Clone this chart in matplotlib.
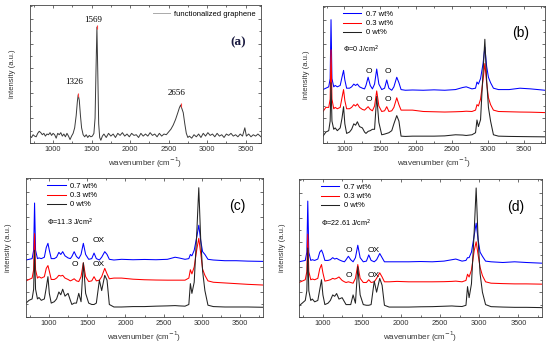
import matplotlib
matplotlib.use('Agg')
import matplotlib.pyplot as plt
from matplotlib.ticker import MultipleLocator, NullFormatter

plt.rcParams['font.family'] = ['Liberation Sans', 'DejaVu Sans']

# ---- panel (a): functionalized graphene ----
a_x = [700, 720, 740, 760, 780, 800, 820, 840, 860, 880, 900, 920, 940, 960, 980,
       1000, 1020, 1040, 1060, 1080, 1100, 1120, 1140, 1160, 1180, 1200, 1220, 1240,
       1260, 1280, 1300, 1315, 1326, 1340, 1355, 1370, 1390, 1410, 1430, 1450, 1470,
       1490, 1510, 1530, 1545, 1558, 1569, 1580, 1592, 1605, 1620, 1640, 1660, 1690,
       1720, 1750, 1780, 1810, 1840, 1870, 1900, 1930, 1960, 1990, 2020, 2050, 2080,
       2110, 2140, 2170, 2200, 2230, 2260, 2290, 2320, 2350, 2380, 2410, 2440, 2470,
       2500, 2530, 2560, 2590, 2620, 2640, 2656, 2672, 2690, 2710, 2730, 2750, 2770,
       2800, 2830, 2860, 2890, 2920, 2950, 2980, 3010, 3040, 3070, 3100, 3130, 3160,
       3190, 3220, 3250, 3280, 3310, 3340, 3370, 3400, 3430, 3460, 3490, 3510, 3540,
       3570, 3600, 3630, 3660, 3700]
a_y = [0.05, 0.04, 0.06, 0.05, 0.045, 0.07, 0.085, 0.075, 0.06, 0.07, 0.05, 0.065, 0.06, 0.075, 0.055,
       0.07, 0.06, 0.035, 0.07, 0.06, 0.075, 0.05, 0.065, 0.045, 0.07, 0.05, 0.025, 0.05,
       0.07, 0.11, 0.20, 0.30, 0.35, 0.31, 0.20, 0.11, 0.06, 0.045, 0.06, 0.04, 0.055,
       0.045, 0.05, 0.07, 0.18, 0.55, 0.84, 0.52, 0.14, 0.04, 0.02, 0.05, 0.065, 0.04,
       0.07, 0.05, 0.065, 0.04, 0.07, 0.055, 0.075, 0.05, 0.065, 0.045, 0.07, 0.055, 0.06,
       0.04, 0.07, 0.05, 0.065, 0.05, 0.075, 0.055, 0.065, 0.045, 0.07, 0.05, 0.065, 0.06,
       0.08, 0.10, 0.13, 0.17, 0.22, 0.255, 0.275, 0.25, 0.22, 0.14, 0.07, 0.04, 0.05,
       0.035, 0.06, 0.045, 0.065, 0.04, 0.07, 0.05, 0.075, 0.055, 0.065, 0.045, 0.07, 0.05,
       0.06, 0.04, 0.065, 0.055, 0.07, 0.05, 0.06, 0.045, 0.065, 0.05, 0.11, 0.05, 0.065,
       0.045, 0.06, 0.05, 0.065, 0.045]
a_peaks = [1326, 1569, 2656]
a_peak_y = [0.35, 0.84, 0.275]

# ---- panels (b)-(d): shared wavenumber grid ----
wn = [700, 740, 780, 800, 812, 825, 850, 870, 900, 940,
      965, 987, 1005, 1030, 1070, 1100, 1130, 1155, 1180, 1210,
      1250, 1280, 1300, 1330, 1360, 1390, 1420, 1450, 1480, 1520,
      1560, 1590, 1620, 1660, 1690, 1730, 1760, 1790, 1850, 1950,
      2100, 2250, 2400, 2550, 2650, 2700, 2780, 2830, 2850, 2870,
      2900, 2935, 2960, 2985, 3010, 3040, 3080, 3150, 3300, 3450,
      3600, 3800]

b_07 = [0.39, 0.40, 0.41, 0.47, 0.90, 0.47, 0.41, 0.42, 0.41, 0.42,
        0.48, 0.53, 0.46, 0.40, 0.40, 0.41, 0.43, 0.42, 0.43, 0.41,
        0.40, 0.395, 0.42, 0.48, 0.42, 0.395, 0.43, 0.54, 0.43, 0.39,
        0.40, 0.46, 0.40, 0.385, 0.41, 0.48, 0.44, 0.39, 0.385, 0.387,
        0.385, 0.388, 0.385, 0.39, 0.405, 0.41, 0.395, 0.40, 0.445, 0.43,
        0.47, 0.58, 0.70, 0.56, 0.48, 0.44, 0.40, 0.39, 0.39, 0.40,
        0.395, 0.385]
b_03 = [0.23, 0.26, 0.26, 0.32, 0.68, 0.32, 0.25, 0.26, 0.25, 0.26,
        0.33, 0.39, 0.31, 0.25, 0.25, 0.26, 0.28, 0.27, 0.285, 0.26,
        0.245, 0.24, 0.25, 0.265, 0.245, 0.235, 0.27, 0.38, 0.27, 0.23,
        0.235, 0.265, 0.23, 0.235, 0.26, 0.33, 0.28, 0.24, 0.24, 0.24,
        0.23, 0.228, 0.226, 0.228, 0.23, 0.232, 0.23, 0.24, 0.28, 0.27,
        0.32, 0.46, 0.58, 0.44, 0.33, 0.28, 0.24, 0.23, 0.228, 0.226,
        0.225, 0.222]
b_00 = [0.05, 0.08, 0.09, 0.16, 0.44, 0.16, 0.10, 0.11, 0.09, 0.11,
        0.18, 0.265, 0.14, 0.07, 0.08, 0.10, 0.14, 0.13, 0.155, 0.12,
        0.11, 0.08, 0.07, 0.085, 0.09, 0.10, 0.10, 0.34, 0.15, 0.06,
        0.065, 0.07, 0.075, 0.09, 0.14, 0.20, 0.16, 0.05, 0.048, 0.05,
        0.05, 0.05, 0.052, 0.06, 0.058, 0.055, 0.06, 0.075, 0.168, 0.12,
        0.17, 0.52, 0.757, 0.46, 0.26, 0.16, 0.06, 0.05, 0.048, 0.047,
        0.046, 0.045]

c_07 = [0.41, 0.415, 0.42, 0.48, 0.82, 0.48, 0.42, 0.425, 0.42, 0.43,
        0.50, 0.53, 0.48, 0.42, 0.42, 0.43, 0.465, 0.45, 0.47, 0.44,
        0.425, 0.42, 0.435, 0.47, 0.435, 0.42, 0.45, 0.53, 0.45, 0.415,
        0.42, 0.46, 0.42, 0.41, 0.43, 0.47, 0.45, 0.415, 0.41, 0.415,
        0.412, 0.414, 0.412, 0.415, 0.43, 0.425, 0.415, 0.42, 0.45, 0.44,
        0.48, 0.58, 0.66, 0.55, 0.47, 0.45, 0.415, 0.41, 0.405, 0.405,
        0.402, 0.40]
c_03 = [0.26, 0.27, 0.28, 0.34, 0.60, 0.34, 0.28, 0.29, 0.28, 0.29,
        0.35, 0.37, 0.33, 0.27, 0.27, 0.28, 0.30, 0.295, 0.30, 0.28,
        0.27, 0.26, 0.265, 0.275, 0.26, 0.255, 0.29, 0.39, 0.29, 0.255,
        0.26, 0.29, 0.26, 0.265, 0.29, 0.35, 0.31, 0.275, 0.28, 0.28,
        0.272, 0.268, 0.266, 0.265, 0.265, 0.265, 0.265, 0.28, 0.34, 0.31,
        0.36, 0.49, 0.566, 0.46, 0.344, 0.30, 0.26, 0.25, 0.245, 0.24,
        0.235, 0.23]
c_00 = [0.10, 0.12, 0.13, 0.20, 0.48, 0.20, 0.13, 0.14, 0.12, 0.13,
        0.21, 0.29, 0.17, 0.10, 0.11, 0.13, 0.18, 0.16, 0.20, 0.15,
        0.17, 0.12, 0.09, 0.10, 0.10, 0.17, 0.11, 0.39, 0.17, 0.10,
        0.09, 0.09, 0.10, 0.265, 0.19, 0.30, 0.265, 0.09, 0.072, 0.072,
        0.075, 0.075, 0.078, 0.08, 0.082, 0.08, 0.078, 0.09, 0.24, 0.17,
        0.25, 0.62, 0.93, 0.56, 0.33, 0.19, 0.085, 0.075, 0.072, 0.072,
        0.072, 0.07]

d_07 = [0.40, 0.405, 0.41, 0.47, 0.84, 0.47, 0.41, 0.415, 0.41, 0.42,
        0.47, 0.485, 0.46, 0.41, 0.41, 0.415, 0.43, 0.42, 0.425, 0.415,
        0.405, 0.40, 0.415, 0.44, 0.415, 0.40, 0.43, 0.52, 0.43, 0.40,
        0.405, 0.45, 0.41, 0.40, 0.415, 0.46, 0.43, 0.40, 0.40, 0.40,
        0.40, 0.402, 0.40, 0.405, 0.415, 0.42, 0.405, 0.41, 0.43, 0.43,
        0.47, 0.59, 0.68, 0.56, 0.47, 0.44, 0.405, 0.40, 0.395, 0.40,
        0.395, 0.39]
d_03 = [0.25, 0.26, 0.27, 0.33, 0.60, 0.33, 0.27, 0.275, 0.27, 0.28,
        0.35, 0.38, 0.32, 0.26, 0.265, 0.27, 0.28, 0.275, 0.28, 0.29,
        0.265, 0.255, 0.25, 0.255, 0.25, 0.245, 0.28, 0.38, 0.28, 0.25,
        0.25, 0.27, 0.25, 0.255, 0.28, 0.32, 0.29, 0.255, 0.255, 0.258,
        0.255, 0.255, 0.255, 0.256, 0.258, 0.26, 0.255, 0.265, 0.31, 0.29,
        0.34, 0.48, 0.545, 0.45, 0.36, 0.30, 0.255, 0.245, 0.242, 0.24,
        0.24, 0.238]
d_00 = [0.08, 0.10, 0.12, 0.19, 0.50, 0.19, 0.12, 0.13, 0.11, 0.12,
        0.20, 0.27, 0.16, 0.09, 0.10, 0.12, 0.16, 0.15, 0.17, 0.13,
        0.14, 0.11, 0.09, 0.09, 0.09, 0.16, 0.10, 0.365, 0.16, 0.09,
        0.085, 0.085, 0.09, 0.26, 0.18, 0.28, 0.23, 0.085, 0.072, 0.072,
        0.072, 0.074, 0.075, 0.078, 0.08, 0.078, 0.076, 0.085, 0.22, 0.14,
        0.24, 0.62, 0.935, 0.56, 0.315, 0.18, 0.09, 0.075, 0.072, 0.07,
        0.07, 0.068]

series_names = ['0.7 wt%', '0.3 wt%', '0 wt%']
series_colors = ['#0000ff', '#ff0000', '#222222']

W, H = 550, 343
fig = plt.figure(figsize=(W / 100, H / 100), dpi=100)


def add_panel(left, top, right, bottom, xmax):
    ax = fig.add_axes([left / W, 1 - bottom / H, (right - left) / W, (bottom - top) / H])
    ax.set_xlim(700, xmax)
    ax.set_ylim(0, 1)
    ax.xaxis.set_major_locator(MultipleLocator(500))
    ax.xaxis.set_minor_locator(MultipleLocator(250))
    ax.yaxis.set_major_locator(MultipleLocator(0.18))
    ax.yaxis.set_minor_locator(MultipleLocator(0.09))
    ax.yaxis.set_major_formatter(NullFormatter())
    ax.tick_params(which='both', direction='in', top=True, right=True,
                   labelsize=5.3, width=0.5, pad=2.5, colors='#333333')
    ax.tick_params(which='major', length=2.5)
    ax.tick_params(which='minor', length=1.3)
    for s in ax.spines.values():
        s.set_linewidth(0.6)
        s.set_color('#444444')
    cx = (left + right) / 2
    fig.text(cx / W, 1 - (bottom + 20) / H, 'wavenumber (cm$^{-1}$)',
             ha='center', va='center', fontsize=5.8, color='#333333')
    fig.text((left - 17) / W, 1 - ((top + bottom) / 2) / H, 'intensity (a.u.)',
             ha='center', va='center', rotation=90, fontsize=5.5, color='#333333')
    return ax


# (a)
ax = add_panel(30, 5, 261, 143, 3700)
ax.plot(a_x, a_y, color='#3a3a3a', lw=0.7, label='functionalized graphene')
ax.plot(a_peaks, a_peak_y, ls='none', marker='|', ms=3, mew=0.8, color='#ff4040')
leg = ax.legend(loc='upper right', frameon=False, fontsize=5.5, handlelength=2.2,
                borderaxespad=0.3, handletextpad=0.5)
leg.get_lines()[0].set_color('#aaaaaa')
for px, py, s in [(1270, 0.44, '1326'), (1515, 0.89, '1569'), (2600, 0.36, '2656')]:
    ax.text(px, py, s, ha='center', va='center', fontsize=6.5, family='Liberation Serif')
ax.text(0.90, 0.73, '(a)', transform=ax.transAxes, ha='center', va='center',
        fontsize=9.5, fontweight='bold', family='Liberation Serif', color='#1a1a40')

panels = [
    dict(box=(323, 6, 545, 143), data=(b_07, b_03, b_00), tag='(b)',
         phi='$\\Phi$=0 J/cm$^2$', marks=[(1339, 0.52, 'O'), (1609, 0.52, 'O'),
                                          (1339, 0.32, 'O'), (1609, 0.32, 'O')]),
    dict(box=(26, 178, 263, 317), data=(c_07, c_03, c_00), tag='(c)',
         phi='$\\Phi$=11.3 J/cm$^2$', marks=[(1340, 0.55, 'O'), (1654, 0.55, 'OX'),
                                             (1340, 0.38, 'O'), (1654, 0.38, 'OX')]),
    dict(box=(299, 179, 542, 317), data=(d_07, d_03, d_00), tag='(d)',
         phi='$\\Phi$=22.61 J/cm$^2$', marks=[(1340, 0.48, 'O'), (1654, 0.48, 'OX'),
                                              (1340, 0.30, 'O'), (1654, 0.30, 'OX')]),
]

for p in panels:
    l, t, r, b = p['box']
    ax = add_panel(l, t, r, b, 3800)
    for ys, name, col in zip(p['data'], series_names, series_colors):
        ax.plot(wn, ys, color=col, lw=0.75, label=name)
    ax.legend(loc='upper left', frameon=False, fontsize=5.5, handlelength=2.4,
              borderaxespad=0.2, handletextpad=0.6, labelspacing=0.25,
              bbox_to_anchor=(0.07, 1.0))
    ax.text(0.09, 0.68, p['phi'], transform=ax.transAxes, fontsize=5.2,
            ha='left', va='center')
    ax.text(0.89, 0.80, p['tag'], transform=ax.transAxes, fontsize=10,
            ha='center', va='center')
    for mx, my, s in p['marks']:
        ax.text(mx, my, s, ha='center', va='center', fontsize=6)

fig.savefig('out.png', dpi=100, facecolor='white')
